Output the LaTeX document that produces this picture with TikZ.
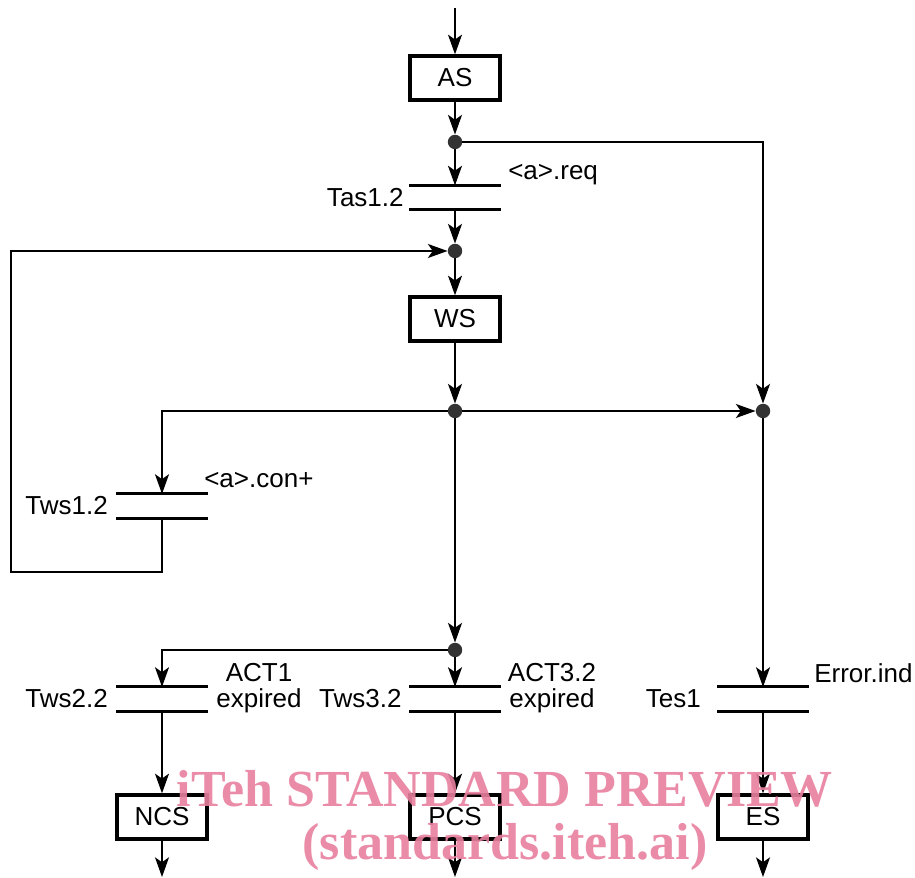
\documentclass[tikz,border=0pt]{standalone}
\usepackage{fontspec}
\setmainfont{Liberation Sans}
\newfontfamily\wmfont{Liberation Serif}
\usepackage{tikz}
\usetikzlibrary{positioning, arrows.meta, calc}
\definecolor{wmpink}{HTML}{E8809F}

\tikzset{
    state/.style={draw, line width=2.4pt, minimum width=2.25cm, minimum height=1.1cm, inner sep=0pt},
    trans/.style={minimum width=2.28cm, minimum height=0.59cm, inner sep=0pt},
    bar/.style={line width=2.2pt},
    flow/.style={line width=0.9pt, -{Stealth[length=14pt, width=10pt, inset=3.5pt]}},
    junct/.style={circle, fill=black!80, inner sep=0pt, minimum size=0.36cm},
    lbl/.style={inner sep=0pt},
    wm/.style={font=\wmfont\bfseries\fontsize{37}{37}\selectfont, text=wmpink, text opacity=0.9, inner sep=0pt}
}

\begin{document}
\begin{tikzpicture}[x=0.025cm, y=-0.025cm, font=\fontsize{18.5}{19}\selectfont]
    \useasboundingbox (0,0) rectangle (915,878);

    % states
    \node[state] (AS) at (455,78) {AS};
    \node[state] (WS) at (455,319) {WS};
    \node[state] (NCS) at (162,817) {NCS};
    \node[state] (PCS) at (455,817) {PCS};
    \node[state] (ES) at (763,817) {ES};

    % transitions
    \node[trans] (Tas) at (455,197.5) {};
    \node[trans] (Tws1) at (162,506) {};
    \node[trans] (Tws2) at (162,699) {};
    \node[trans] (Tws3) at (455,699) {};
    \node[trans] (Tes) at (763,699) {};
    \foreach \t in {Tas, Tws1, Tws2, Tws3, Tes}{
        \draw[bar] (\t.north west) -- (\t.north east);
        \draw[bar] (\t.south west) -- (\t.south east);
    }

    % junctions
    \node[junct] (j1) at (455,142) {};
    \node[junct] (j2) at (455,251) {};
    \node[junct] (j3) at (455,411) {};
    \node[junct] (j4) at (763,411) {};
    \node[junct] (j5) at (455,650) {};
    \coordinate (in) at (455,8);
    \coordinate (loop) at (11,572);
    \coordinate (outNCS) at (162,877);
    \coordinate (outPCS) at (455,877);
    \coordinate (outES) at (763,877);

    % connectors
    \draw[flow] (in) -- (AS);
    \draw[flow] (AS) -- (j1);
    \draw[flow] (j1) -- (Tas.north);
    \draw[flow] (j1) -| (j4);
    \draw[flow] (Tas.south) -- (j2);
    \draw[flow] (j2) -- (WS);
    \draw[flow] (WS) -- (j3);
    \draw[flow] (j3) -| (Tws1.north);
    \draw[flow] (j3) -- (j4);
    \draw[flow] (j3) -- (j5);
    \draw[flow] (Tws1.south) |- (loop) |- (j2);
    \draw[flow] (j5) -| (Tws2.north);
    \draw[flow] (j5) -- (Tws3.north);
    \draw[flow] (j4) -- (Tes.north);
    \draw[flow] (Tws2.south) -- (NCS);
    \draw[flow] (Tws3.south) -- (PCS);
    \draw[flow] (Tes.south) -- (ES);
    \draw[flow] (NCS) -- (outNCS);
    \draw[flow] (PCS) -- (outPCS);
    \draw[flow] (ES) -- (outES);

    % labels
    \node[lbl, left=0.13cm of Tas] {Tas1.2};
    \node[lbl, anchor=base west] at (508,180) {<a>.req};
    \node[lbl, left=0.2cm of Tws1] {Tws1.2};
    \node[lbl, anchor=base west] at (204,488) {<a>.con+};
    \node[lbl, left=0.2cm of Tws2] {Tws2.2};
    \node[lbl, align=center] at (259,688) {ACT1\\expired};
    \node[lbl, left=0.18cm of Tws3] {Tws3.2};
    \node[lbl, align=center] at (552,688) {ACT3.2\\expired};
    \node[lbl, left=0.4cm of Tes] {Tes1};
    \node[lbl, anchor=base west] at (814,682) {Error.ind};

    % watermark
    \node[wm] at (505,789) {iTeh STANDARD PREVIEW};
    \node[wm] at (505,847) {(standards.iteh.ai)};
\end{tikzpicture}
\end{document}
